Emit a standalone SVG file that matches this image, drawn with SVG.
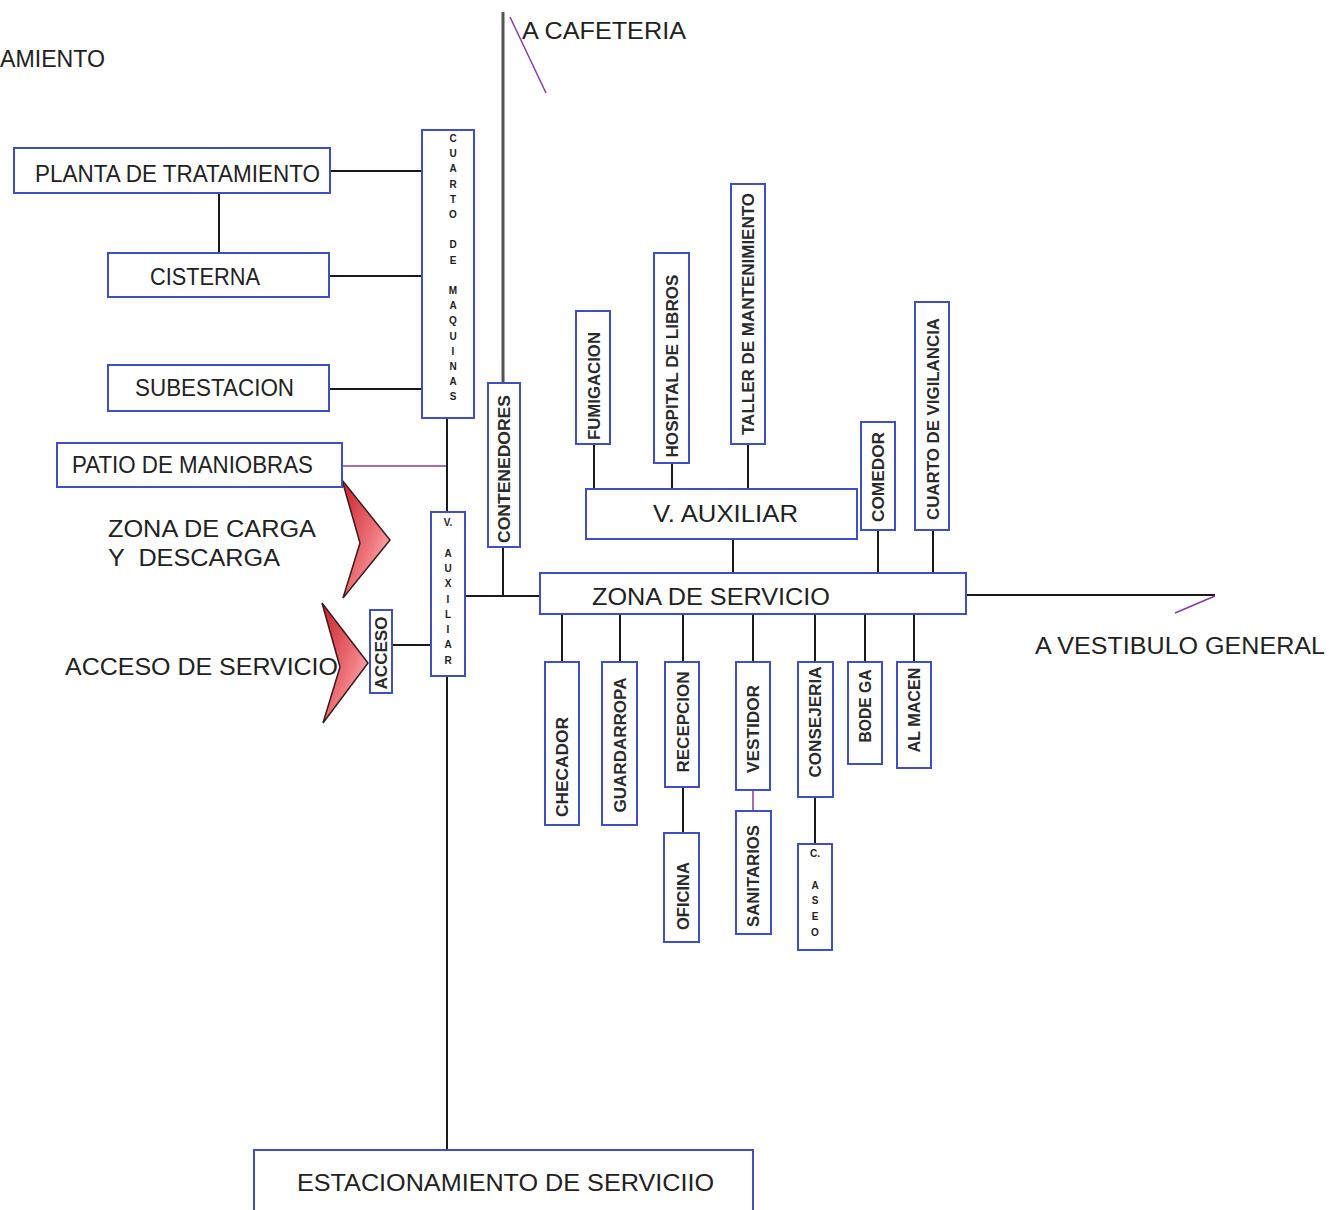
<svg xmlns="http://www.w3.org/2000/svg" width="1336" height="1210" viewBox="0 0 1336 1210">
<defs>
<style>
.box{fill:#fff;stroke:#3f4fc8;stroke-width:2}
.ln{stroke:#1a1a1a;stroke-width:2;fill:none}
.gl{stroke:#555;stroke-width:3;fill:none}
.pl{stroke:#8a3aa0;stroke-width:1.5;fill:none}
.t{font-family:"Liberation Sans",Arial,sans-serif;font-size:23px;fill:#222}
.v{font-family:"Liberation Sans",Arial,sans-serif;font-size:16px;font-weight:bold;fill:#2a2a2a;text-anchor:middle;dominant-baseline:central}
.s{font-family:"Liberation Sans",Arial,sans-serif;font-size:10px;font-weight:bold;fill:#222;text-anchor:middle}
.ar{stroke:#3a1a1a;stroke-width:1.5;fill:url(#rg)}
</style>
<linearGradient id="rg" x1="0" y1="0" x2="1" y2="1">
<stop offset="0" stop-color="#c8202a"/>
<stop offset="0.6" stop-color="#f07a80"/>
<stop offset="1" stop-color="#fde0e0"/>
</linearGradient>
</defs>

<g id="connectors">
<line class="gl" x1="503" y1="12" x2="503" y2="383"/>
<line class="ln" x1="503" y1="547" x2="503" y2="596"/>
<line class="pl" x1="510" y1="17" x2="546" y2="93"/>
<line class="ln" x1="330" y1="171" x2="422" y2="171"/>
<line class="ln" x1="219" y1="193" x2="219" y2="253"/>
<line class="ln" x1="329" y1="276" x2="422" y2="276"/>
<line class="ln" x1="329" y1="389" x2="422" y2="389"/>
<line class="pl" x1="342" y1="466" x2="447" y2="466"/>
<line class="ln" x1="447" y1="418" x2="447" y2="512"/>
<line class="ln" x1="447" y1="676" x2="447" y2="1150"/>
<line class="ln" x1="392" y1="645" x2="431" y2="645"/>
<line class="ln" x1="465" y1="596" x2="540" y2="596"/>
<line class="ln" x1="966" y1="595" x2="1215" y2="595"/>
<line class="pl" x1="1215" y1="596" x2="1175" y2="613"/>
<line class="ln" x1="594" y1="444" x2="594" y2="489"/>
<line class="ln" x1="672" y1="463" x2="672" y2="489"/>
<line class="ln" x1="748" y1="444" x2="748" y2="489"/>
<line class="ln" x1="733" y1="539" x2="733" y2="573"/>
<line class="ln" x1="878" y1="530" x2="878" y2="573"/>
<line class="ln" x1="933" y1="530" x2="933" y2="573"/>
<line class="ln" x1="562" y1="614" x2="562" y2="662"/>
<line class="ln" x1="620" y1="614" x2="620" y2="662"/>
<line class="ln" x1="683" y1="614" x2="683" y2="662"/>
<line class="ln" x1="753" y1="614" x2="753" y2="662"/>
<line class="ln" x1="815" y1="614" x2="815" y2="662"/>
<line class="ln" x1="865" y1="614" x2="865" y2="662"/>
<line class="ln" x1="914" y1="614" x2="914" y2="662"/>
<line class="ln" x1="683" y1="787" x2="683" y2="833"/>
<line class="pl" x1="753" y1="790" x2="753" y2="811"/>
<line class="ln" x1="815" y1="797" x2="815" y2="844"/>
</g>

<g id="labels">
<text class="t" x="105" y="67" text-anchor="end" textLength="105" lengthAdjust="spacingAndGlyphs">AMIENTO</text>
<text class="t" x="522" y="39" textLength="164" lengthAdjust="spacingAndGlyphs">A CAFETERIA</text>
<text class="t" x="108" y="537" textLength="208" lengthAdjust="spacingAndGlyphs">ZONA DE CARGA</text>
<text class="t" x="108" y="566" textLength="172" lengthAdjust="spacingAndGlyphs" xml:space="preserve">Y  DESCARGA</text>
<text class="t" x="65" y="675" textLength="273" lengthAdjust="spacingAndGlyphs">ACCESO DE SERVICIO</text>
<text class="t" x="1035" y="654" textLength="290" lengthAdjust="spacingAndGlyphs">A VESTIBULO GENERAL</text>
</g>

<g id="arrows">
<path class="ar" d="M342,480 L390,540 L343,598 L360,543 Z"/>
<path class="ar" d="M322,603 L368,663 L323,723 L340,667 Z"/>
</g>

<g id="planta"><rect class="box" x="14" y="148" width="316" height="45"/><text class="t" x="35" y="182" textLength="285" lengthAdjust="spacingAndGlyphs">PLANTA DE TRATAMIENTO</text></g>
<g id="cisterna"><rect class="box" x="108" y="253" width="221" height="44"/><text class="t" x="150" y="285" textLength="110" lengthAdjust="spacingAndGlyphs">CISTERNA</text></g>
<g id="subestacion"><rect class="box" x="108" y="365" width="221" height="46"/><text class="t" x="135" y="396" textLength="159" lengthAdjust="spacingAndGlyphs">SUBESTACION</text></g>
<g id="patio"><rect class="box" x="57" y="443" width="285" height="44"/><text class="t" x="72" y="473" textLength="241" lengthAdjust="spacingAndGlyphs">PATIO DE MANIOBRAS</text></g>

<g id="cuarto-maquinas"><rect class="box" x="422" y="130" width="52" height="288"/>
<text class="s" y="142"><tspan x="453">C</tspan><tspan x="453" dy="15.2">U</tspan><tspan x="453" dy="15.2">A</tspan><tspan x="453" dy="15.2">R</tspan><tspan x="453" dy="15.2">T</tspan><tspan x="453" dy="15.2">O</tspan><tspan x="453" dy="30.4">D</tspan><tspan x="453" dy="15.2">E</tspan><tspan x="453" dy="30.4">M</tspan><tspan x="453" dy="15.2">A</tspan><tspan x="453" dy="15.2">Q</tspan><tspan x="453" dy="15.2">U</tspan><tspan x="453" dy="15.2">I</tspan><tspan x="453" dy="15.2">N</tspan><tspan x="453" dy="15.2">A</tspan><tspan x="453" dy="15.2">S</tspan></text></g>

<g id="v-auxiliar-v"><rect class="box" x="431" y="512" width="34" height="164"/>
<text class="s" y="526"><tspan x="448">V.</tspan><tspan x="448" dy="30.6">A</tspan><tspan x="448" dy="15.3">U</tspan><tspan x="448" dy="15.3">X</tspan><tspan x="448" dy="15.3">I</tspan><tspan x="448" dy="15.3">L</tspan><tspan x="448" dy="15.3">I</tspan><tspan x="448" dy="15.3">A</tspan><tspan x="448" dy="15.3">R</tspan></text></g>

<g id="acceso"><rect class="box" x="370" y="610" width="22" height="83"/><text class="v" transform="translate(381,653) rotate(-90)" font-size="15" textLength="73" lengthAdjust="spacingAndGlyphs">ACCESO</text></g>
<g id="contenedores"><rect class="box" x="488" y="383" width="32" height="164"/><text class="v" transform="translate(504,469) rotate(-90)" textLength="148" lengthAdjust="spacingAndGlyphs">CONTENEDORES</text></g>
<g id="fumigacion"><rect class="box" x="576" y="311" width="34" height="133"/><text class="v" transform="translate(594,386) rotate(-90)" textLength="108" lengthAdjust="spacingAndGlyphs">FUMIGACION</text></g>
<g id="hospital"><rect class="box" x="654" y="253" width="35" height="210"/><text class="v" transform="translate(672,366) rotate(-90)" textLength="183" lengthAdjust="spacingAndGlyphs">HOSPITAL DE LIBROS</text></g>
<g id="taller"><rect class="box" x="731" y="184" width="34" height="260"/><text class="v" transform="translate(748,314) rotate(-90)" textLength="242" lengthAdjust="spacingAndGlyphs">TALLER DE MANTENIMIENTO</text></g>
<g id="v-auxiliar-h"><rect class="box" x="586" y="489" width="271" height="50"/><text class="t" x="653" y="522" font-size="24" textLength="145" lengthAdjust="spacingAndGlyphs">V. AUXILIAR</text></g>
<g id="comedor"><rect class="box" x="861" y="422" width="34" height="108"/><text class="v" transform="translate(878,477) rotate(-90)" textLength="90" lengthAdjust="spacingAndGlyphs">COMEDOR</text></g>
<g id="vigilancia"><rect class="box" x="915" y="302" width="34" height="228"/><text class="v" transform="translate(933,419) rotate(-90)" textLength="202" lengthAdjust="spacingAndGlyphs">CUARTO DE VIGILANCIA</text></g>
<g id="zona-servicio"><rect class="box" x="540" y="573" width="426" height="41"/><text class="t" x="592" y="605" font-size="24" textLength="238" lengthAdjust="spacingAndGlyphs">ZONA DE SERVICIO</text></g>
<g id="checador"><rect class="box" x="545" y="662" width="34" height="163"/><text class="v" transform="translate(562,767) rotate(-90)" textLength="100" lengthAdjust="spacingAndGlyphs">CHECADOR</text></g>
<g id="guardarropa"><rect class="box" x="602" y="662" width="35" height="163"/><text class="v" transform="translate(620,745) rotate(-90)" textLength="135" lengthAdjust="spacingAndGlyphs">GUARDARROPA</text></g>
<g id="recepcion"><rect class="box" x="665" y="662" width="34" height="125"/><text class="v" transform="translate(683,722) rotate(-90)" textLength="101" lengthAdjust="spacingAndGlyphs">RECEPCION</text></g>
<g id="oficina"><rect class="box" x="664" y="833" width="35" height="109"/><text class="v" transform="translate(683,896) rotate(-90)" textLength="68" lengthAdjust="spacingAndGlyphs">OFICINA</text></g>
<g id="vestidor"><rect class="box" x="736" y="662" width="34" height="128"/><text class="v" transform="translate(753,729) rotate(-90)" textLength="88" lengthAdjust="spacingAndGlyphs">VESTIDOR</text></g>
<g id="sanitarios"><rect class="box" x="736" y="811" width="35" height="123"/><text class="v" transform="translate(753,876) rotate(-90)" textLength="102" lengthAdjust="spacingAndGlyphs">SANITARIOS</text></g>
<g id="consejeria"><rect class="box" x="798" y="662" width="35" height="135"/><text class="v" transform="translate(815,722) rotate(-90)" textLength="111" lengthAdjust="spacingAndGlyphs">CONSEJERIA</text></g>
<g id="c-aseo"><rect class="box" x="798" y="844" width="34" height="106"/>
<text class="s" y="857"><tspan x="815">C.</tspan><tspan x="815" dy="31.6">A</tspan><tspan x="815" dy="15.8">S</tspan><tspan x="815" dy="15.8">E</tspan><tspan x="815" dy="15.8">O</tspan></text></g>
<g id="bodega"><rect class="box" x="848" y="662" width="34" height="102"/><text class="v" transform="translate(865,706) rotate(-90)" textLength="73" lengthAdjust="spacingAndGlyphs">BODE GA</text></g>
<g id="almacen"><rect class="box" x="897" y="662" width="34" height="106"/><text class="v" transform="translate(914,710) rotate(-90)" textLength="85" lengthAdjust="spacingAndGlyphs">AL MACEN</text></g>
<g id="estacionamiento"><rect class="box" x="254" y="1150" width="499" height="70"/><text class="t" x="297" y="1191" font-size="24" textLength="417" lengthAdjust="spacingAndGlyphs">ESTACIONAMIENTO DE SERVICIIO</text></g>
</svg>
